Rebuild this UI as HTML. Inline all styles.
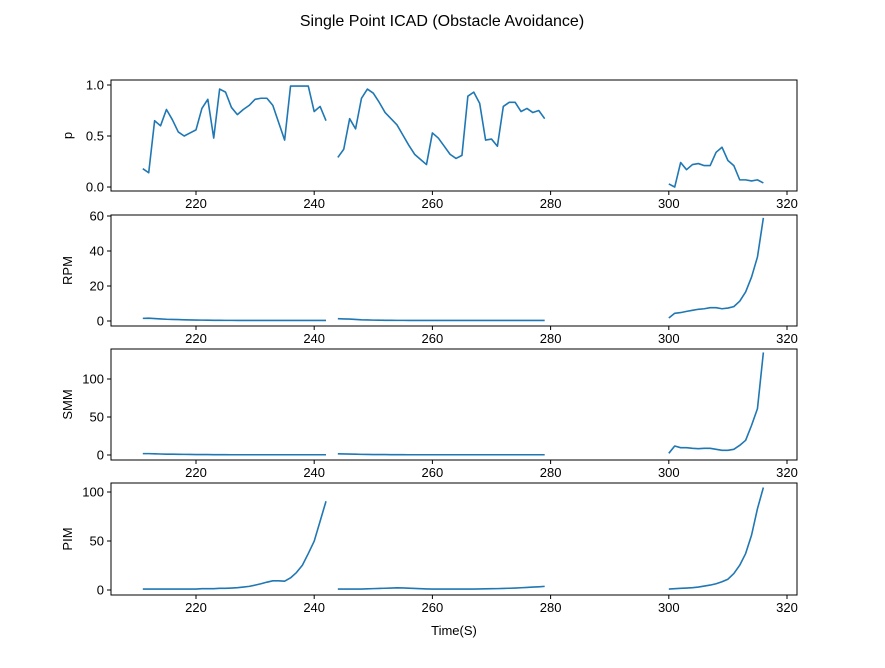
<!DOCTYPE html>
<html><head><meta charset="utf-8"><style>
body{margin:0;background:#fff;}
svg{display:block;font-family:"Liberation Sans","DejaVu Sans",sans-serif;}
</style></head><body>
<svg id="chart" width="885" height="668" viewBox="0 0 885 668">
<text x="442" y="26" text-anchor="middle" font-size="16">Single Point ICAD (Obstacle Avoidance)</text>
<text x="454" y="635" text-anchor="middle" font-size="13">Time(S)</text>
</svg>
<script>
const seg1Times = Array.from({length:32},(_,i)=>211+i);
const seg2Times = Array.from({length:36},(_,i)=>244+i);
const seg3Times = Array.from({length:17},(_,i)=>300+i);
const pSeg1 = [0.18,0.14,0.65,0.60,0.76,0.66,0.54,0.50,0.53,0.56,0.77,0.86,0.48,0.96,0.93,0.78,0.71,0.76,0.80,0.86,0.87,0.87,0.80,0.63,0.46,0.99,0.99,0.99,0.99,0.74,0.79,0.65];
const pSeg2 = [0.29,0.37,0.67,0.57,0.87,0.96,0.92,0.83,0.73,0.67,0.61,0.51,0.41,0.32,0.27,0.22,0.53,0.48,0.40,0.32,0.28,0.31,0.89,0.93,0.82,0.46,0.47,0.40,0.79,0.83,0.83,0.74,0.77,0.73,0.75,0.67];
const pSeg3 = [0.03,0.00,0.24,0.17,0.22,0.23,0.21,0.21,0.34,0.39,0.26,0.21,0.07,0.07,0.06,0.07,0.04];
const rpmSeg1 = [1.5,1.6,1.4,1.2,1.0,0.9,0.8,0.7,0.6,0.55,0.5,0.45,0.4,0.4,0.35,0.35,0.3,0.3,0.3,0.3,0.3,0.3,0.3,0.3,0.3,0.3,0.3,0.3,0.3,0.3,0.3,0.3];
const rpmSeg2 = [1.3,1.2,1.1,0.9,0.7,0.6,0.5,0.45,0.4,0.4,0.35,0.35,0.3,0.3,0.3,0.3,0.3,0.3,0.3,0.3,0.3,0.3,0.3,0.3,0.3,0.3,0.3,0.3,0.3,0.3,0.3,0.3,0.3,0.3,0.3,0.3];
const rpmSeg3 = [1.7,4.4,4.8,5.5,6.1,6.7,7.0,7.6,7.6,7.0,7.4,8.2,11.3,16.6,25.1,36.6,58.9];
const smmSeg1 = [1.8,1.8,1.5,1.3,1.1,1.0,0.9,0.8,0.7,0.6,0.5,0.5,0.4,0.4,0.4,0.3,0.3,0.3,0.3,0.3,0.3,0.3,0.3,0.3,0.3,0.3,0.3,0.3,0.3,0.3,0.3,0.3];
const smmSeg2 = [1.6,1.4,1.2,1.0,0.8,0.7,0.6,0.5,0.5,0.4,0.4,0.4,0.3,0.3,0.3,0.3,0.3,0.3,0.3,0.3,0.3,0.3,0.3,0.3,0.3,0.3,0.3,0.3,0.3,0.3,0.3,0.3,0.3,0.3,0.3,0.3];
const smmSeg3 = [2.2,11.8,9.6,9.6,8.8,8.3,8.8,8.8,7.5,6.2,6.2,7.5,12.7,19.3,39,61,135];
const pimSeg1 = [1.0,1.0,1.0,1.0,1.0,1.0,1.0,1.0,1.0,1.0,1.3,1.3,1.3,1.7,1.7,2.0,2.4,3.0,3.7,5.0,6.4,8.0,9.4,9.4,9.0,12.4,17.8,25.3,37.2,49.8,70.2,90.6];
const pimSeg2 = [1.0,1.0,1.0,1.0,1.0,1.2,1.4,1.6,1.8,2.0,2.2,2.1,1.9,1.6,1.3,1.1,1.0,1.0,1.0,1.0,1.0,1.0,1.0,1.0,1.1,1.2,1.3,1.4,1.6,1.8,2.0,2.3,2.6,3.0,3.3,3.7];
const pimSeg3 = [1.0,1.3,1.7,2.0,2.4,3.0,4.0,5.0,6.4,8.4,11.0,16.8,25.3,37.2,56,83,104.6];
const xTicks = [220,240,260,280,300,320];
const pTicks = [0.0,0.5,1.0];
const rpmTicks = [0,20,40,60];
const smmTicks = [0,50,100];
const pimTicks = [0,50,100];

const NS='http://www.w3.org/2000/svg';
const svg=document.getElementById('chart');
const L=111,R=797,X0=205.62,X1=321.69;
const xs=t=>L+(t-X0)/(X1-X0)*(R-L);
function mk(tag,attrs,parent){const e=document.createElementNS(NS,tag);for(const k in attrs)e.setAttribute(k,attrs[k]);(parent||svg).appendChild(e);return e;}
const panels=[
 {name:'p',label:'p',top:80,bot:191,ymin:-0.039,ymax:1.049,ticks:pTicks,fmt:v=>v.toFixed(1),segs:[pSeg1,pSeg2,pSeg3]},
 {name:'rpm',label:'RPM',top:215,bot:326,ymin:-2.86,ymax:60.57,ticks:rpmTicks,fmt:v=>String(v),segs:[rpmSeg1,rpmSeg2,rpmSeg3]},
 {name:'smm',label:'SMM',top:349,bot:460,ymin:-6.6,ymax:139.5,ticks:smmTicks,fmt:v=>String(v),segs:[smmSeg1,smmSeg2,smmSeg3]},
 {name:'pim',label:'PIM',top:483,bot:595,ymin:-5.1,ymax:109.2,ticks:pimTicks,fmt:v=>String(v),segs:[pimSeg1,pimSeg2,pimSeg3]}
];
const times=[seg1Times,seg2Times,seg3Times];
panels.forEach(pn=>{
 const g=mk('g',{});
 
 
 const ys=v=>pn.bot-(v-pn.ymin)/(pn.ymax-pn.ymin)*(pn.bot-pn.top);
 pn.segs.forEach((vals,si)=>{
  const d=vals.map((v,i)=>(i?'L':'M')+xs(times[si][i]).toFixed(2)+','+ys(v).toFixed(2)).join('');
  const path=mk('path',{d:d,fill:'none',stroke:'#1f77b4','stroke-width':1.6,'stroke-linejoin':'round'},g);
  
  
 });
 const frame=mk('rect',{x:L,y:pn.top,width:R-L,height:pn.bot-pn.top,fill:'none',stroke:'#000','stroke-width':1},g);
 
 
 xTicks.forEach(t=>{
  const x=xs(t);
  mk('line',{x1:x,x2:x,y1:pn.bot,y2:pn.bot+4,stroke:'#000'},g);
  const tx=mk('text',{x:x,y:pn.bot+17,'text-anchor':'middle','font-size':13},g);
  tx.textContent=t;
  
  
 });
 pn.ticks.forEach(v=>{
  const y=ys(v);
  mk('line',{x1:L-4,x2:L,y1:y,y2:y,stroke:'#000'},g);
  const tx=mk('text',{x:L-7,y:y+4.5,'text-anchor':'end','font-size':13},g);
  tx.textContent=pn.fmt(v);
  
  
 });
 const cy=(pn.top+pn.bot)/2;
 const lab=mk('text',{x:72,y:cy,'text-anchor':'middle','font-size':13,transform:'rotate(-90 72 '+cy+')'},g);
 lab.textContent=pn.label;
 
 
});
</script>
</body></html>
